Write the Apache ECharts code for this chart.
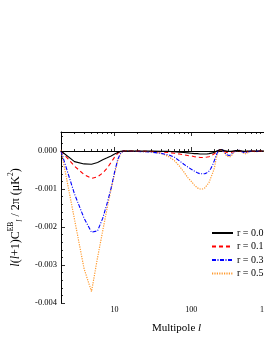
<!DOCTYPE html>
<html>
<head>
<meta charset="utf-8">
<style>
html,body{margin:0;padding:0;background:#fff;}
#c{width:264px;height:341px;}
</style>
<script src="https://cdn.jsdelivr.net/npm/echarts@6/dist/echarts.min.js"></script>
</head>
<body>
<div id="c"></div>
<script>
// multipole grid
const ell = [2,3,4,5,6,7,8,9,10,11,12,13,15,20,30,40,50,60,70,80,90,
  100,110,120,130,140,150,160,170,180,190,200,210,220,235,250,270,290,310,330,350,
  380,420,460,500,540,600,700,800,900,1000];

const r00 = [0,-0.00028,-0.00034,-0.00035,-0.0003,-0.00023,-0.00018,-0.00013,-0.00008,-0.00004,-0.00001,0,0,0,0,-0.00001,-0.00001,-0.00002,-0.00003,-0.00004,-0.00005,
  -0.00006,-0.00007,-0.00007,-0.00008,-0.00008,-0.00008,-0.00008,-0.00007,-0.00006,-0.00005,-0.00003,-0.00001,0.00001,0.00003,0.00003,0.00001,0,-0.00001,-0.00001,0,
  0.00001,0.00001,0,-0.00001,0,0,0,0,0,0];

const r01 = [0,-0.0004,-0.00062,-0.00072,-0.00068,-0.00058,-0.00045,-0.0003,-0.00016,-0.00006,-0.00001,0,0,0,-0.00001,-0.00002,-0.00004,-0.00006,-0.00008,-0.0001,-0.00012,
  -0.00013,-0.00015,-0.00016,-0.00017,-0.00017,-0.00017,-0.00016,-0.00015,-0.00013,-0.0001,-0.00007,-0.00004,-0.00001,0.00003,0.00003,-0.00001,-0.00004,-0.00005,-0.00004,-0.00002,
  0.00001,0.00001,-0.00001,-0.00002,-0.00001,0,-0.00001,0,0,0];

const r03 = [0,-0.00113,-0.00177,-0.00214,-0.0021,-0.00177,-0.00137,-0.00098,-0.00055,-0.00022,-0.00005,0,0,-0.00001,-0.00003,-0.00006,-0.0001,-0.00016,-0.00026,-0.00035,-0.00042,
  -0.00048,-0.00053,-0.00057,-0.0006,-0.0006,-0.0006,-0.00057,-0.00053,-0.00046,-0.00036,-0.00025,-0.00012,-0.00003,0.00004,0.00004,-0.00003,-0.0001,-0.00012,-0.0001,-0.00004,
  0.00001,0.00002,-0.00002,-0.00005,-0.00003,0,-0.00001,0,-0.00001,0];

const r05 = [0.00003,-0.0018,-0.0031,-0.0037,-0.0028,-0.0021,-0.0015,-0.001,-0.0006,-0.00025,-0.00007,0.00001,0.00001,-0.00001,-0.00002,-0.00006,-0.00014,-0.00025,-0.0004,-0.00055,-0.0007,
  -0.0008,-0.0009,-0.00097,-0.001,-0.001,-0.00097,-0.0009,-0.00083,-0.0007,-0.00058,-0.00045,-0.00022,-0.00005,0.00003,0.00003,-0.00005,-0.00013,-0.00016,-0.00014,-0.00006,
  0,0.00002,-0.00003,-0.00008,-0.00005,0,-0.00002,0,-0.00001,0];

const seriesNames = ['r = 0.0','r = 0.1','r = 0.3','r = 0.5'];
const xMajorTicks = [10,100,1000];
const xMinorTicks = [2,3,4,5,6,7,8,9,20,30,40,50,60,70,80,90,200,300,400,500,600,700,800,900];
const yMajorTicks = [-0.004,-0.003,-0.002,-0.001,0];
const yMinorTicks = [-0.0038,-0.0036,-0.0034,-0.0032,-0.0028,-0.0026,-0.0024,-0.0022,
  -0.0018,-0.0016,-0.0014,-0.0012,-0.0008,-0.0006,-0.0004,-0.0002,0.0002,0.0004];

const FONT = 'Liberation Serif';
const pairs = v => ell.map((l,i)=>[l, v[i]]);

function xAx(pos, ticks, len, opts) {
  return Object.assign({
    type:'log', logBase:10, min:2, max:1000, position:pos, gridIndex:0,
    axisLine:{show:false},
    splitLine:{show:false},
    axisLabel:{show:false},
    axisTick:{show:true, inside:true, length:len, customValues:ticks, lineStyle:{color:'#000', width:0.8}}
  }, opts||{});
}
function yAx(ticks, len, opts) {
  return Object.assign({
    type:'value', min:-0.004, max:0.0005, position:'left', gridIndex:0,
    axisLine:{show:false},
    splitLine:{show:false},
    axisLabel:{show:false},
    axisTick:{show:true, inside:true, length:len, customValues:ticks, lineStyle:{color:'#000', width:0.8}}
  }, opts||{});
}

const chart = echarts.init(document.getElementById('c'), null, {renderer:'canvas'});
chart.setOption({
  animation:false,
  backgroundColor:'#fff',
  grid:{left:61, top:132, width:207, height:171, containLabel:false, outerBoundsMode:'none'},
  legend:{
    orient:'vertical', left:211, top:228, itemWidth:21, itemHeight:8, itemGap:3.5, padding:0,
    data:seriesNames,
    itemStyle:{opacity:0},
    textStyle:{fontFamily:FONT, fontSize:10, color:'#000', padding:[0,0,0,-1]}
  },
  xAxis:[
    xAx('bottom', xMajorTicks, 4, {
      axisLine:{show:true, lineStyle:{color:'#000', width:1}},
      axisLabel:{show:true, customValues:xMajorTicks, margin:3, fontFamily:FONT, fontSize:8, color:'#000',
        formatter:v=>String(Math.round(v))},
      name:'Multipole {i|l}', nameLocation:'middle', nameGap:20,
      nameTextStyle:{fontFamily:FONT, fontSize:11, color:'#000', padding:[0,0,0,24],
        rich:{i:{fontFamily:FONT, fontStyle:'italic', fontSize:11, color:'#000'}}}
    }),
    xAx('bottom', xMinorTicks, 2),
    xAx('top', xMajorTicks, 4, {axisLine:{show:true, lineStyle:{color:'#000', width:1}}}),
    xAx('top', xMinorTicks, 2)
  ],
  yAxis:[
    yAx(yMajorTicks, 4, {
      axisLine:{show:true, lineStyle:{color:'#000', width:1}},
      axisLabel:{show:true, customValues:yMajorTicks, margin:4, fontFamily:FONT, fontSize:8.5, color:'#000',
        formatter:v=>Number(v).toFixed(3)},
      name:'{i|l}({i|l}+1)C{sup|EB}{sub|l} / 2π (μK{sup|2})',
      nameLocation:'middle', nameGap:36,
      nameTextStyle:{fontFamily:FONT, fontSize:12, color:'#000', lineHeight:17,
        rich:{
          i:{fontFamily:FONT, fontStyle:'italic', fontSize:12, color:'#000', lineHeight:17},
          sup:{fontFamily:FONT, fontSize:7.5, color:'#000', verticalAlign:'top', lineHeight:8},
          sub:{fontFamily:FONT, fontStyle:'italic', fontSize:7.5, color:'#000', verticalAlign:'bottom', lineHeight:8}
        }}
    }),
    yAx(yMinorTicks, 2)
  ],
  series:[
    {name:seriesNames[3], type:'line', data:pairs(r05), symbol:'none', showSymbol:false, z:2,
      lineStyle:{color:'#FF9A2E', width:1.2, type:[1.2,1.2]}, itemStyle:{color:'#FF9A2E'}},
    {name:seriesNames[2], type:'line', data:pairs(r03), symbol:'none', showSymbol:false, z:3,
      lineStyle:{color:'#0000FF', width:1.1, type:[4,1.5,1,1.5]}, itemStyle:{color:'#0000FF'}},
    {name:seriesNames[1], type:'line', data:pairs(r01), symbol:'none', showSymbol:false, z:4,
      lineStyle:{color:'#FF0000', width:1.1, type:[4,3]}, itemStyle:{color:'#FF0000'}},
    {name:seriesNames[0], type:'line', data:pairs(r00), symbol:'none', showSymbol:false, z:5,
      lineStyle:{color:'#000000', width:1.1, type:'solid'}, itemStyle:{color:'#000000'}}
  ]
});
</script>
</body>
</html>
